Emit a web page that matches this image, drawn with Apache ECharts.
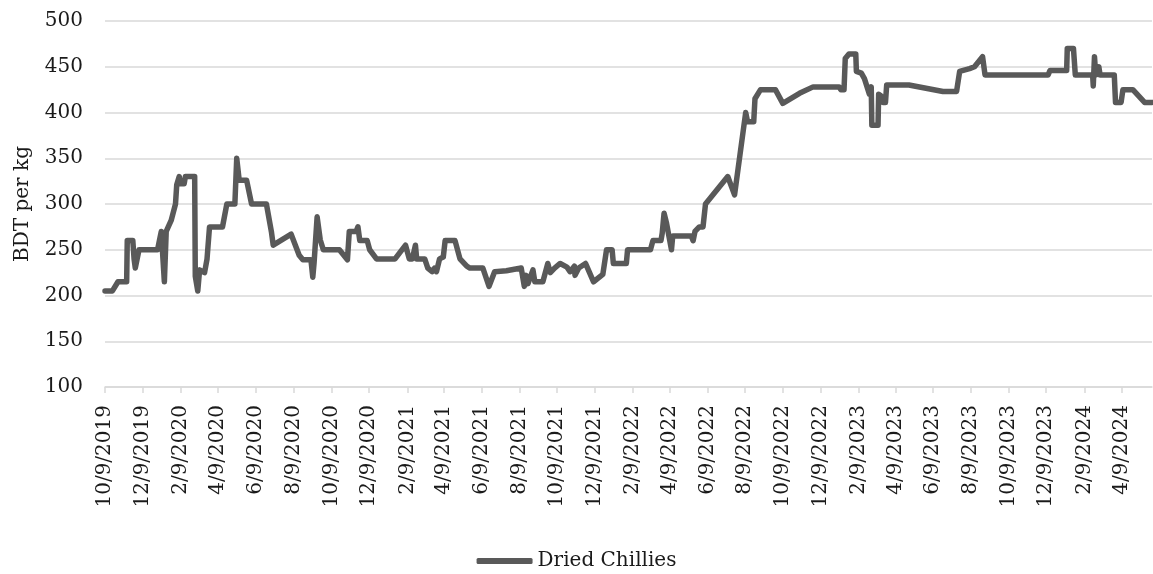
<!DOCTYPE html>
<html>
<head>
<meta charset="utf-8">
<script src="https://cdn.jsdelivr.net/npm/echarts@6/dist/echarts.min.js"></script>
<style>
  html, body { margin: 0; padding: 0; background: #fff; }
  #chart { width: 1153px; height: 574px; }
</style>
</head>
<body>
<div id="chart"></div>
<script>
// Retail price of dried chillies, BDT per kg
const seriesName = 'Dried Chillies';
const yAxisTitle = 'BDT per kg';

const dates = [
  '2019-10-09','2019-10-21','2019-10-30','2019-11-13','2019-11-14','2019-11-23','2019-11-25','2019-11-27',
  '2019-12-03','2020-01-02','2020-01-05','2020-01-08','2020-01-11','2020-01-13','2020-01-16','2020-01-24',
  '2020-01-31','2020-02-02','2020-02-06','2020-02-08','2020-02-14','2020-02-16','2020-03-02','2020-03-03',
  '2020-03-07','2020-03-10','2020-03-18','2020-03-22','2020-03-26','2020-04-16','2020-04-23','2020-05-06',
  '2020-05-09','2020-05-13','2020-05-25','2020-06-02','2020-06-26','2020-07-04','2020-07-07','2020-08-05',
  '2020-08-18','2020-08-24','2020-09-06','2020-09-09','2020-09-11','2020-09-16','2020-09-21','2020-09-26',
  '2020-10-22','2020-11-04','2020-11-07','2020-11-18','2020-11-21','2020-11-24','2020-12-06','2020-12-10',
  '2020-12-21','2021-01-20','2021-02-06','2021-02-12','2021-02-17','2021-02-22','2021-02-24','2021-03-09',
  '2021-03-14','2021-03-21','2021-03-25','2021-03-28','2021-04-02','2021-04-08','2021-04-11','2021-04-27',
  '2021-05-05','2021-05-16','2021-05-21','2021-06-11','2021-06-21','2021-06-30','2021-07-19','2021-08-12',
  '2021-08-17','2021-08-20','2021-08-23','2021-08-31','2021-09-03','2021-09-16','2021-09-24','2021-09-28',
  '2021-10-05','2021-10-14','2021-10-25','2021-10-30','2021-11-06','2021-11-07','2021-11-13','2021-11-24',
  '2021-12-07','2021-12-22','2021-12-28','2022-01-06','2022-01-08','2022-01-29','2022-01-31','2022-03-09',
  '2022-03-13','2022-03-26','2022-03-28','2022-03-31','2022-04-04','2022-04-12','2022-04-14','2022-05-14',
  '2022-05-17','2022-05-20','2022-05-27','2022-06-02','2022-06-06','2022-07-12','2022-07-23','2022-08-10',
  '2022-08-13','2022-08-23','2022-08-25','2022-09-03','2022-09-27','2022-10-09','2022-11-05','2022-11-27',
  '2023-01-08','2023-01-11','2023-01-16','2023-01-18','2023-01-24','2023-02-04','2023-02-05','2023-02-13',
  '2023-02-18','2023-02-26','2023-03-01','2023-03-02','2023-03-12','2023-03-13','2023-03-17','2023-03-20',
  '2023-03-24','2023-03-26','2023-05-01','2023-06-25','2023-07-17','2023-07-22','2023-08-07','2023-08-15',
  '2023-08-28','2023-09-01','2023-12-12','2023-12-15','2024-01-11','2024-01-12','2024-01-22','2024-01-25',
  '2024-02-22','2024-02-23','2024-02-25','2024-02-27','2024-03-03','2024-03-05','2024-03-28','2024-03-30',
  '2024-04-08','2024-04-11','2024-04-27','2024-05-16','2024-05-28'
];

const prices = [
  205, 205, 215, 215, 260, 260, 240, 230,
  250, 250, 260, 270, 270, 215, 270, 282,
  300, 321, 330, 322, 322, 330, 330, 221,
  205, 228, 225, 240, 275, 275, 300, 300,
  350, 326, 326, 300, 300, 270, 255, 267,
  244, 239, 239, 220, 235, 286, 261, 250,
  250, 239, 270, 270, 275, 260, 260, 250,
  240, 240, 255, 240, 240, 255, 240, 240,
  230, 226, 230, 226, 240, 242, 260, 260,
  240, 232, 230, 230, 210, 226, 227, 230,
  210, 222, 213, 228, 215, 215, 235, 225,
  230, 235, 231, 226, 232, 222, 230, 235,
  215, 223, 250, 250, 235, 235, 250, 250,
  260, 260, 268, 290, 279, 250, 265, 265,
  260, 270, 275, 275, 300, 330, 310, 400,
  390, 390, 415, 425, 425, 410, 421, 428,
  428, 425, 425, 459, 464, 464, 445, 443,
  437, 420, 428, 386, 386, 420, 418, 411,
  411, 430, 430, 423, 423, 445, 448, 450,
  461, 441, 441, 446, 446, 470, 470, 441,
  441, 429, 461, 441, 450, 441, 441, 411,
  411, 425, 425, 411, 411
];

// Date-axis ticks every two months on the 9th
const tickDates = [
  '2019-10-09','2019-12-09','2020-02-09','2020-04-09','2020-06-09','2020-08-09','2020-10-09',
  '2020-12-09','2021-02-09','2021-04-09','2021-06-09','2021-08-09','2021-10-09','2021-12-09',
  '2022-02-09','2022-04-09','2022-06-09','2022-08-09','2022-10-09','2022-12-09','2023-02-09',
  '2023-04-09','2023-06-09','2023-08-09','2023-10-09','2023-12-09','2024-02-09','2024-04-09'
];

const yMin = 100, yMax = 500, yStep = 50;
const xStart = '2019-10-09', xEnd = '2024-05-28';

function toTime(s) {
  const [y, m, d] = s.split('-').map(Number);
  return new Date(y, m - 1, d).getTime();
}

const tickTimes = tickDates.map(toTime);
const lineData = dates.map((d, i) => [toTime(d), prices[i]]);

const FONT = '"DejaVu Serif", "Liberation Serif", serif';
const TEXT = '#1a1a1a';
const chart = echarts.init(document.getElementById('chart'), null, { renderer: 'canvas' });

chart.setOption({
  animation: false,
  backgroundColor: '#ffffff',
  grid: { left: 105, right: 1, top: 21, bottom: 187, containLabel: false },
  xAxis: {
    type: 'value',
    min: toTime(xStart),
    max: toTime(xEnd),
    scale: true,
    axisLine: { show: true, onZero: false, lineStyle: { color: '#d9d9d9', width: 1.5 } },
    axisTick: { show: true, customValues: tickTimes, length: 6, lineStyle: { color: '#d9d9d9', width: 1.5 } },
    axisLabel: {
      customValues: tickTimes,
      rotate: 90,
      margin: 18,
      color: TEXT,
      fontFamily: FONT,
      fontSize: 20,
      formatter: function (v) {
        const d = new Date(v);
        return (d.getMonth() + 1) + '/' + d.getDate() + '/' + d.getFullYear();
      }
    },
    splitLine: { show: false }
  },
  yAxis: {
    type: 'value',
    min: yMin,
    max: yMax,
    interval: yStep,
    name: yAxisTitle,
    nameLocation: 'middle',
    nameRotate: 90,
    nameGap: 72,
    nameTextStyle: { color: TEXT, fontFamily: FONT, fontSize: 20 },
    axisLine: { show: false },
    axisTick: { show: false },
    axisLabel: { color: TEXT, fontFamily: FONT, fontSize: 20, margin: 22 },
    splitLine: { lineStyle: { color: '#d9d9d9', width: 1.5 } }
  },
  legend: {
    show: true,
    left: 'center',
    top: 546,
    icon: 'roundRect',
    itemWidth: 56,
    itemHeight: 6,
    itemGap: 8,
    textStyle: { color: TEXT, fontFamily: FONT, fontSize: 20 },
    data: [seriesName]
  },
  series: [{
    name: seriesName,
    type: 'line',
    data: lineData,
    showSymbol: false,
    symbol: 'none',
    color: '#595959',
    lineStyle: { color: '#595959', width: 5.5, cap: 'round', join: 'round' }
  }]
});
</script>
</body>
</html>
